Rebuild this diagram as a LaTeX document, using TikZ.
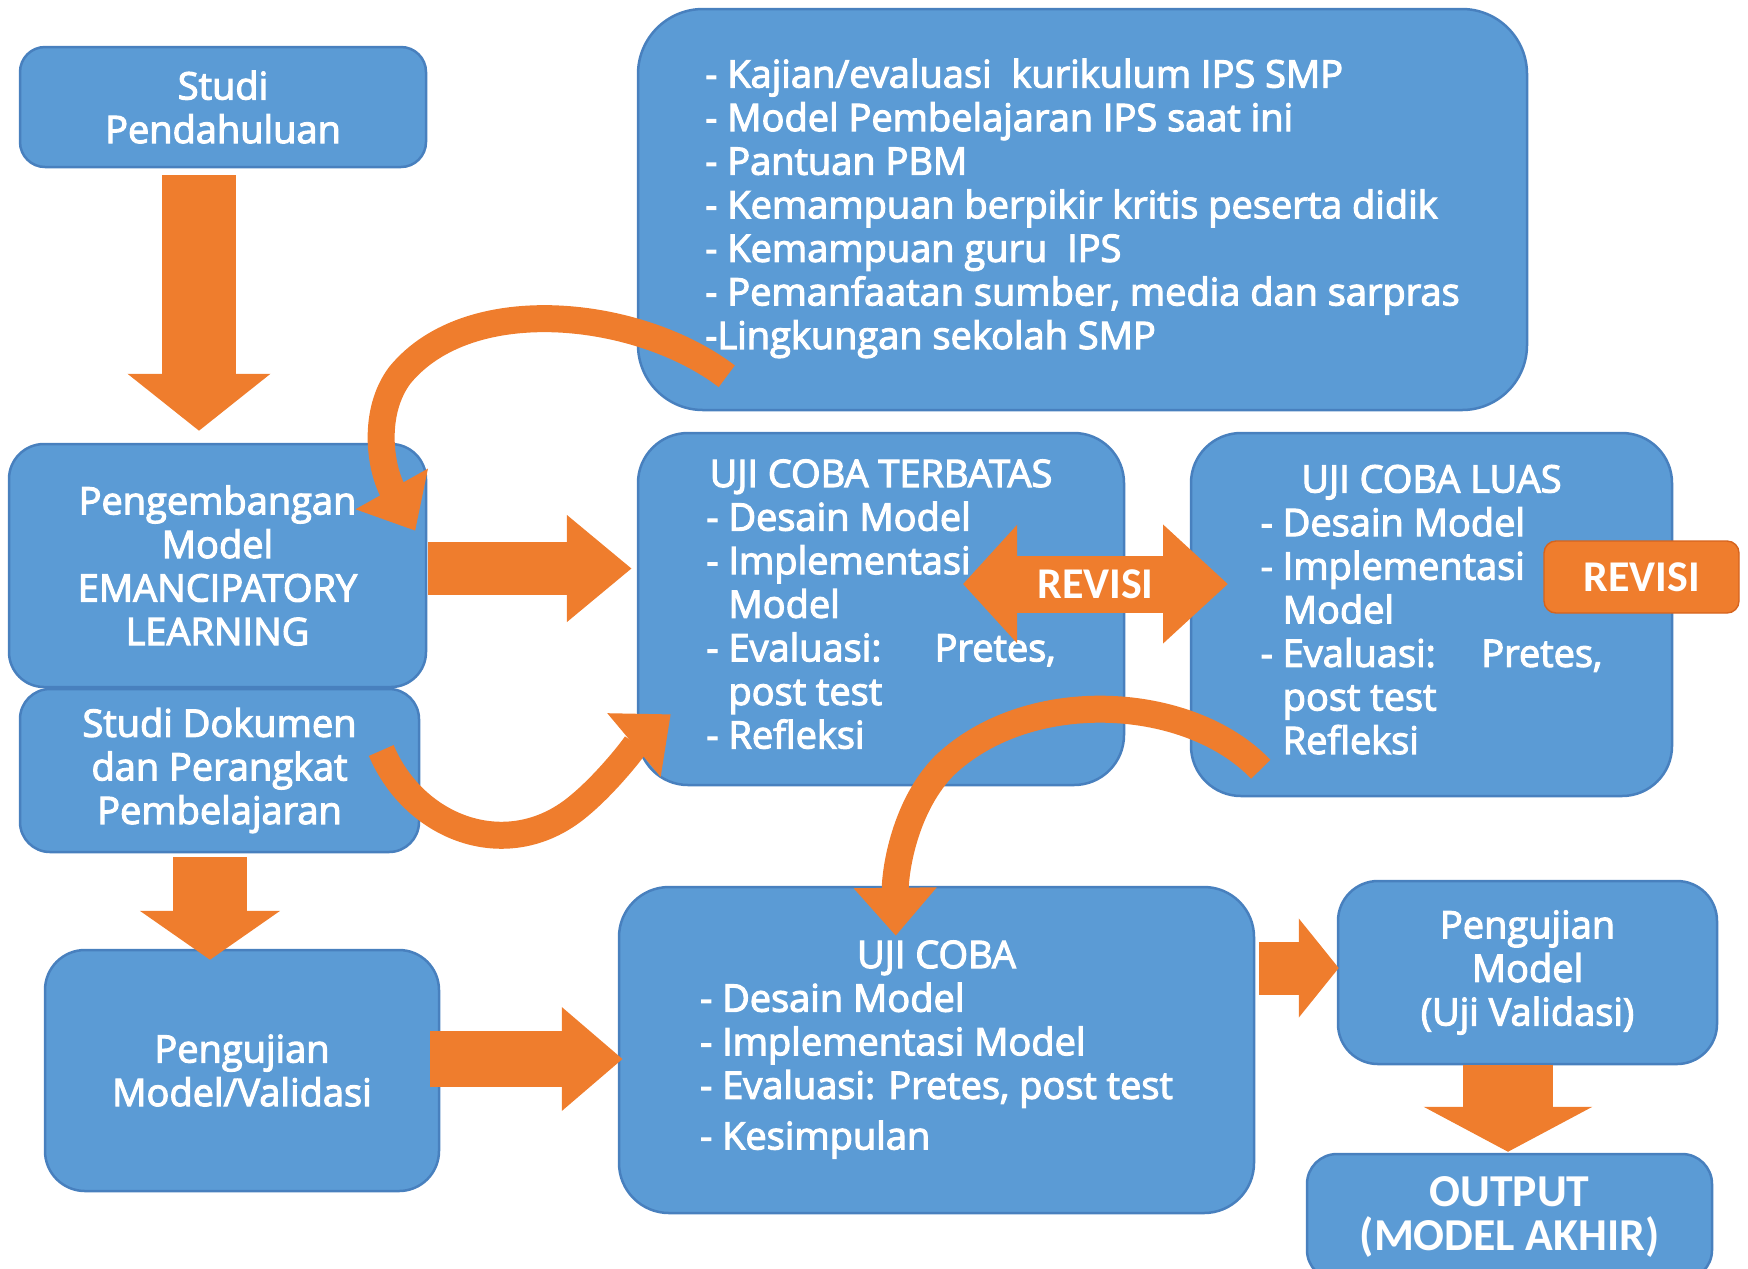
\documentclass[tikz,border=0pt]{standalone}
\usepackage{fontspec}
\newfontfamily\boxfont{Open Sans}[FakeBold=3]
\newfontfamily\revfont{Carlito}
\usetikzlibrary{arrows.meta,calc}
\definecolor{boxblue}{RGB}{91,155,213}
\definecolor{boxline}{RGB}{72,128,190}
\definecolor{arrowor}{RGB}{239,125,45}
\definecolor{revline}{RGB}{214,100,30}
\tikzset{
  box/.style={draw=boxline, line width=0.25mm, fill=boxblue, rounded corners=4mm,
    text=white, align=center, inner sep=0pt,
    font=\boxfont\fontsize{10.8}{12.4}\selectfont},
  bigarrow/.style={draw=arrowor},
  curvearrow/.style={draw=arrowor, line width=2.7mm, -{Triangle[length=4.8mm,width=8mm]}},
  revbox/.style={fill=arrowor, draw=revline, rounded corners=1.2mm, text=white,
    minimum width=19.5mm, minimum height=7.2mm,
    font=\revfont\bfseries\fontsize{12.5}{14}\selectfont}
}
\newcommand{\listind}{\phantom{- }}

\begin{document}
\begin{tikzpicture}[x=0.1mm, y=-0.1mm]
\useasboundingbox (0,0) rectangle (1748,1268);
\clip (0,0) rectangle (1748,1268);

% left column
\node[box, minimum width=40.6mm, minimum height=12mm, rounded corners=2.5mm] (pend) at (223,107) {Studi\\Pendahuluan};
\node[box, minimum width=41.7mm, minimum height=24.3mm, rounded corners=3.5mm] (kembang) at (217.5,565.5) {Pengembangan\\Model\\EMANCIPATORY\\LEARNING};
\node[box, minimum width=39.9mm, minimum height=16.3mm, rounded corners=3mm] (dokumen) at (219.5,770.5) {Studi Dokumen\\dan Perangkat\\Pembelajaran};
\node[box, minimum width=39.4mm, minimum height=24.1mm] (validasi) at (242,1070.5) {Pengujian\\Model/Validasi};

% middle and right
\node[box, minimum width=88.9mm, minimum height=40.1mm, rounded corners=6.5mm] (kajian) at (1082.5,209.5) {%
  \begin{tabular}{@{}l@{}}
  - Kajian/evaluasi\ \ kurikulum IPS SMP\\
  - Model Pembelajaran IPS saat ini\\
  - Pantuan PBM\\
  - Kemampuan berpikir kritis peserta didik\\
  - Kemampuan guru\ \ IPS\\
  - Pemanfaatan sumber, media dan sarpras\\
  -Lingkungan sekolah SMP
  \end{tabular}};
\node[box, minimum width=48.6mm, minimum height=35.2mm, rounded corners=5mm] (terbatas) at (881,609) {%
  \begin{tabular}{@{}l@{}}
  \multicolumn{1}{@{}c@{}}{UJI COBA TERBATAS}\\
  - Desain Model\\
  - Implementasi\\
  \listind Model\\
  - Evaluasi:\hspace{1.4em}Pretes,\\
  \listind post test\\
  - Refleksi
  \end{tabular}};
\node[box, minimum width=48.1mm, minimum height=36.3mm, rounded corners=5mm] (luas) at (1431.5,614.5) {%
  \begin{tabular}{@{}l@{}}
  \multicolumn{1}{@{}c@{}}{UJI COBA LUAS}\\
  - Desain Model\\
  - Implementasi\\
  \listind Model\\
  - Evaluasi:\hspace{1.2em}Pretes,\\
  \listind post test\\
  \listind Refleksi
  \end{tabular}};
\node[box, minimum width=63.5mm, minimum height=32.6mm, rounded corners=5mm] (ujicoba) at (936.5,1050) {%
  \begin{tabular}{@{}l@{}}
  \multicolumn{1}{@{}c@{}}{UJI COBA}\\
  - Desain Model\\
  - Implementasi Model\\
  - Evaluasi: Pretes, post test\\[2pt]
  - Kesimpulan
  \end{tabular}};
\node[box, minimum width=37.9mm, minimum height=18.3mm] (pengujian) at (1527.5,972.5) {Pengujian\\Model\\(Uji Validasi)};
\node[box, minimum width=40.5mm, minimum height=12.6mm, rounded corners=3mm,
  font=\revfont\bfseries\fontsize{13}{12.6}\selectfont] (output) at (1509.5,1217) {OUTPUT\\(MODEL AKHIR)};

% block arrows
\draw[bigarrow, line width=7.4mm, -{Triangle[length=5.7mm,width=14mm]}]
  ($(pend.south)+(-24,7)$) -- ($(pend.south |- kembang.north)+(-24,-12)$);
\draw[bigarrow, line width=5.3mm, -{Triangle[length=6.5mm,width=10.3mm]}]
  ($(kembang.east)+(1,3)$) -- ($(kembang.east -| terbatas.west)+(-5,3)$);
\draw[bigarrow, line width=7.4mm, -{Triangle[length=4.9mm,width=13.8mm]}]
  ($(dokumen.south)+(-9.5,4)$) -- ($(dokumen.south |- validasi.north)+(-9.5,11)$);
\draw[bigarrow, line width=5.6mm, -{Triangle[length=6.1mm,width=10mm]}]
  ($(validasi.east)+(-10,-11.5)$) -- ($(validasi.east -| ujicoba.west)+(5,-11.5)$);
\draw[bigarrow, line width=5.3mm, -{Triangle[length=4mm,width=9.7mm]}]
  ($(ujicoba.east |- pengujian.west)+(4,-4.5)$) -- ($(pengujian.west)+(2,-4.5)$);
\draw[bigarrow, line width=9mm, -{Triangle[length=4.5mm,width=16.7mm]}]
  ($(pengujian.south)+(-19.5,0)$) -- ($(pengujian.south |- output.north)+(-19.5,-1)$);

% revisi
\coordinate (revL) at (963,584);
\coordinate (revR) at (1228,584);
\draw[bigarrow, line width=5.7mm, {Triangle[length=5.4mm,width=11.5mm]}-{Triangle[length=6.5mm,width=11.5mm]}]
  (revL) -- (revR) node[midway, text=white, font=\revfont\bfseries\fontsize{12.5}{14}\selectfont] (revisi1) {REVISI};
\node[revbox] (revisi2) at (1641.5,577) {REVISI};

% curved arrows
\draw[curvearrow] ($(kajian.south west)+(90,-35)$) .. controls (640,310) and (470,290) .. (400,375)
  .. controls (372,412) and (380,468) .. ($(kembang.north east)+(-12,88)$);
\draw[curvearrow] ($(dokumen.east)+(-39,-20)$) .. controls (415,830) and (510,865) .. (580,805)
  .. controls (610,780) and (640,740) .. ($(terbatas.south west)+(34,-72)$);
\draw[curvearrow] ($(luas.south west)+(71,-28)$) .. controls (1190,695) and (1030,685) .. (945,765)
  .. controls (905,805) and (895,870) .. ($(ujicoba.north west)+(278,50)$);
\end{tikzpicture}
\end{document}
